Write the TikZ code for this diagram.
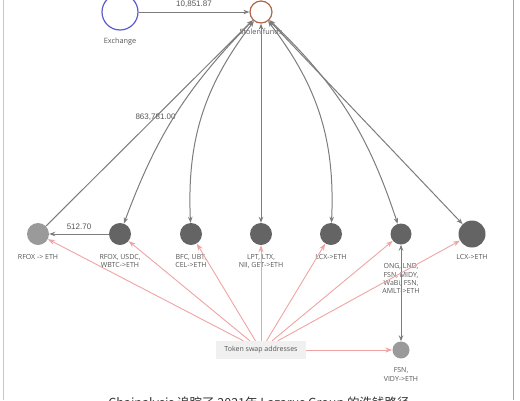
\documentclass[tikz,border=0pt]{standalone}
\usepackage{fontspec}
\setmainfont{Open Sans}
\newfontfamily\edgefont{Liberation Sans}
\newfontfamily\cjk{Noto Sans CJK SC}
\usetikzlibrary{arrows.meta,positioning}
\definecolor{swapred}{HTML}{EFA3A3}
\definecolor{edgegray}{HTML}{7C7C7C}
\definecolor{darknode}{HTML}{646464}
\definecolor{lightnode}{HTML}{9A9A9A}
\definecolor{labelgray}{HTML}{555555}
\definecolor{exblue}{HTML}{5C5CCF}
\definecolor{sfbrown}{HTML}{B0654A}

\begin{document}
\begin{tikzpicture}[x=1pt, y=-1pt, node distance=70pt,
	hub/.style={draw,circle,fill=white,line width=1.2pt,inner sep=0pt},
	swap/.style={circle,fill=darknode,inner sep=0pt,minimum size=22pt},
	lbl/.style={font=\fontsize{7}{8.3}\selectfont,text=labelgray,align=center,inner sep=1pt},
	amount/.style={font=\edgefont\fontsize{8}{9}\selectfont,text=labelgray,inner sep=1pt},
	flow/.style={draw=edgegray,line width=1pt,-{Stealth[length=6pt,width=4.5pt]}},
	both/.style={flow,{Stealth[length=6pt,width=4.5pt]}-{Stealth[length=6pt,width=4.5pt]}},
	feed/.style={draw=swapred,line width=0.9pt,-{Stealth[length=7pt,width=5pt]}}]
	\useasboundingbox (0,0) rectangle (520,400);
	\draw[black!22,line width=1pt] (3,0) -- (3,400);
	\draw[black!35,line width=1.6pt] (513.5,0) -- (513.5,400);

	\node[hub,draw=sfbrown,minimum size=22pt] (sf) at (261,12) {};
	\node[hub,draw=exblue,minimum size=36pt] (ex) [left of=sf, node distance=141pt] {};
	\node[lbl,font=\fontsize{7.3}{8}\selectfont] (exl) [below=6pt of ex] {Exchange};
	\node[lbl,font=\fontsize{7.3}{8}\selectfont] (sfl) [below=4pt of sf] {Stolen funds};

	\node[swap] (lpt) [below of=sf, node distance=222pt] {};
	\node[swap] (bfc) [left of=lpt] {};
	\node[swap] (usdc) [left of=bfc, node distance=71pt] {};
	\node[swap,fill=lightnode] (rfox) [left of=usdc, node distance=82pt] {};
	\node[swap] (lcx) [right of=lpt] {};
	\node[swap,minimum size=21pt] (ong) [right of=lcx] {};
	\node[swap,minimum size=27pt] (lcxr) [right of=ong, node distance=71pt] {};

	\node[lbl] (rfoxl) [below=8pt of rfox] {RFOX -> ETH};
	\node[lbl] (usdcl) [below=8pt of usdc] {RFOX, USDC,\\WBTC->ETH};
	\node[lbl] (bfcl) [below=8pt of bfc] {BFC, UBT,\\CEL->ETH};
	\node[lbl] (lptl) [below=8pt of lpt] {LPT, LTX,\\NII, GET->ETH};
	\node[lbl] (lcxl) [below=8pt of lcx] {LCX->ETH};
	\node[lbl] (ongl) [below=18pt of ong] {ONG, LND,\\FSN, MIDY,\\WaBi, FSN,\\AMLT->ETH};
	\node[lbl] (lcxrl) [below=6pt of lcxr] {LCX->ETH};

	\node[fill=black!6,minimum width=90pt,minimum height=18pt,inner sep=2pt,
		font=\fontsize{7}{8}\selectfont,text=labelgray] (tok) [below of=lpt, node distance=116pt] {Token swap addresses};
	\node[swap,fill=lightnode,minimum size=17pt] (fsn) [below of=ong, node distance=116pt] {};
	\node[lbl] (fsnl) [below=8pt of fsn] {FSN,\\VIDY->ETH};

	% outflows to stolen funds
	\draw[flow] (ex) -- node[amount,above=2.5pt] (exa) {10,851.87} (sf);
	\draw[flow] (rfox) -- node[amount,pos=0.53] (rfoxa) {863,781.00} (sf);
	\draw[both] (sf) to[bend right=12] (usdc);
	\draw[both] (sf) to[bend right=20] (bfc);
	\draw[both] (sf) -- (lpt);
	\draw[both] (sf) to[bend left=20] (lcx);
	\draw[both] (sf) to[bend left=14] (ong);
	\draw[both] (sf) -- (lcxr);
	\draw[flow] (usdc) -- node[amount,above=3pt] (usdca) {512.70} (rfox);
	\draw[both] (ong) -- (fsn);

	% swaps
	\foreach \n in {rfox,usdc,bfc,lpt,lcx,ong,lcxr,fsn}
		\draw[feed] (tok) -- (\n);

	\node[anchor=north,font=\cjk\fontsize{12.5}{14}\selectfont,text=black!80] (cap) at (259,393)
		{Chainalysis 追踪了 2021年 Lazarus Group 的洗钱路径};
\end{tikzpicture}
\end{document}
